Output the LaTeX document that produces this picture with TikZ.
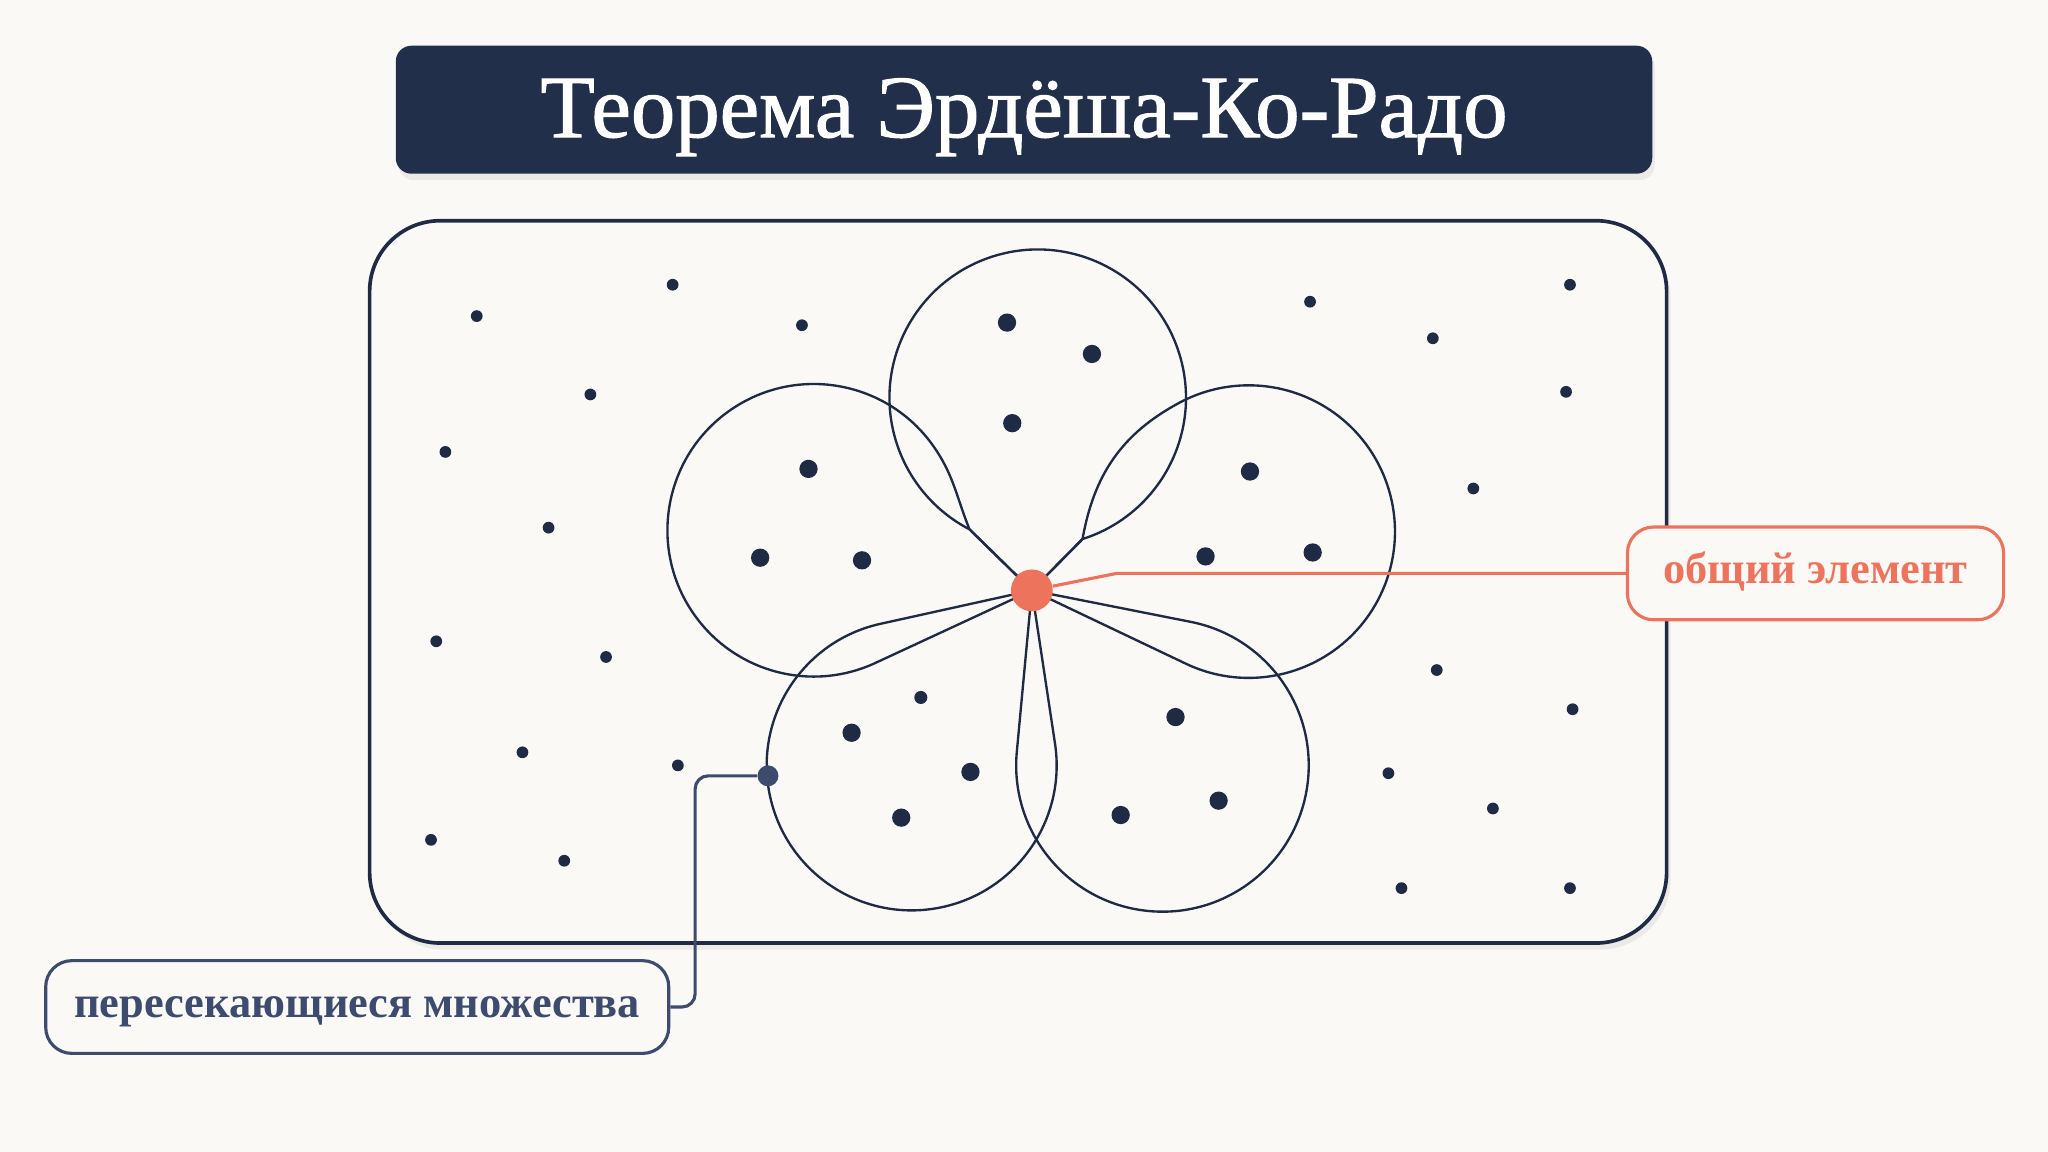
\documentclass[tikz,border=0pt]{standalone}
\usepackage{fontspec}
\setmainfont{Liberation Serif}
\newfontfamily\headfont{Liberation Serif}[FakeBold=1.2]
\usetikzlibrary{shadows}
\definecolor{navy}{HTML}{1F2A44}
\definecolor{titlebg}{HTML}{222F4A}
\definecolor{coral}{HTML}{EE735D}
\definecolor{slate}{HTML}{3C4B6E}
\definecolor{paper}{HTML}{FAF9F6}
\tikzset{
	petal/.style={draw=navy, line width=0.9pt},
	titlebox/.style={rounded corners=6pt, fill=titlebg, text=white, minimum width=481pt, minimum height=49pt, inner sep=0pt, text height=21pt, text depth=0pt, font=\headfont\fontsize{34}{40}\selectfont, drop shadow={shadow xshift=1pt, shadow yshift=-2.5pt, opacity=0.12}},
	board/.style={rounded corners=27pt, draw=navy, line width=1.4pt, fill=paper, minimum width=496.5pt, minimum height=276.5pt, drop shadow={shadow xshift=1.5pt, shadow yshift=-2.5pt, opacity=0.12}},
	callout/.style={rounded corners=10pt, line width=1.2pt, fill=paper, minimum height=35.5pt, inner sep=0pt, text height=8pt, text depth=0pt, font=\bfseries\fontsize{17}{21}\selectfont},
	hub/.style={circle, fill=coral, inner sep=0pt, minimum size=16pt},
	setdot/.style={circle, fill=slate, inner sep=0pt, minimum size=8pt}
}

\begin{document}
\begin{tikzpicture}[x=0.5pt, y=0.5pt]
	\fill[paper] (0,0) rectangle (1568,-882);
	\useasboundingbox (0,0) rectangle (1568,-882);

	\node[titlebox] (title) at (784,-84) {Теорема Эрдёша-Ко-Радо};
	\node[board] (board) at (779.5,-445.5) {};

	\coordinate (c) at (790,-452);
	\coordinate (j1) at ([shift={(242.6:113.5)}]794.5,-304.5);
	\coordinate (j2) at ([shift={(287.6:113.5)}]794.5,-304.5);

	% petals
	\draw[petal] (c) -- (j2) arc[start angle=287.6, end angle=602.6, radius=113.5] -- (c);
	\draw[petal] (c) -- (j1) to[out=112, in=-55] ([shift={(35:112)}]623,-406) arc[start angle=35, end angle=295, radius=112] -- (c);
	\draw[petal] (c) -- ([shift={(244.6:112)}]956,-407) arc[start angle=244.6, end angle=478, radius=112] to[out=208, in=80] (j2) -- (c);
	\draw[petal] (c) -- ([shift={(102.4:111)}]698,-586) arc[start angle=102.4, end angle=368.6, radius=111] -- (c);
	\draw[petal] (c) -- ([shift={(174.6:112)}]890,-586) arc[start angle=174.6, end angle=438.8, radius=112] -- (c);

	% points outside
	\foreach \x/\y in {365/242, 515/218, 614/249, 452/302, 341/346, 420/404, 334/491, 464/503, 400/576, 519/586, 330/643, 432/659,
			1003/231, 1202/218, 1097/259, 1199/300, 1128/374, 1100/513, 1204/543, 1063/592, 1143/619, 1073/680, 1202/680}{
			\fill[navy] (\x,-\y) circle[radius=4.5];
		}
	% points inside the sets
	\foreach \x/\y in {771/247, 836/271, 775/324, 619/359, 582/427, 660/429, 957/361, 923/426, 1005/423,
			652/561, 743/591, 690/626, 900/549, 933/613, 858/624}{
			\fill[navy] (\x,-\y) circle[radius=7];
		}
	\fill[navy] (705,-534) circle[radius=5];

	\node[hub] (hub) at (c) {};
	\node[setdot] (touch) at (588,-594) {};

	\node[callout, draw=coral, text=coral, minimum width=144pt] (common) at (1390,-439) {общий элемент};
	\node[callout, draw=slate, text=slate, minimum width=238.5pt] (sets) at (273.5,-771) {пересекающиеся множества};

	\draw[coral, line width=1.2pt] (hub) -- (855,-439) -- (common.west);
	\draw[slate, line width=1.2pt, rounded corners=5pt] (touch) -| ([xshift=9.5pt]sets.east) -- (sets.east);
\end{tikzpicture}
\end{document}
